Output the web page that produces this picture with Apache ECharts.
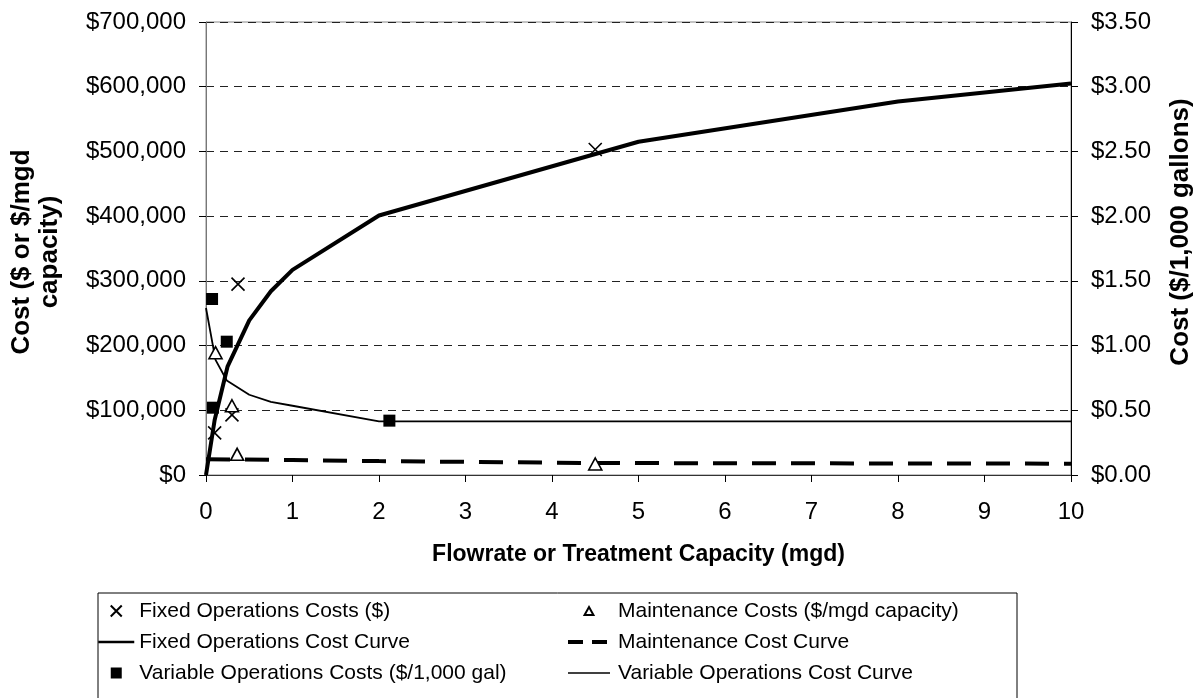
<!DOCTYPE html>
<html>
<head>
<meta charset="utf-8">
<title>Operations and Maintenance Costs vs. Capacity</title>
<script src="https://cdn.jsdelivr.net/npm/echarts@6/dist/echarts.min.js"></script>
<style>
  html, body { margin: 0; padding: 0; background: #fff; }
  #chart { width: 1198px; height: 698px; }
</style>
</head>
<body>
<div id="chart"></div>
<script>
// Flowrate / capacity in mgd, costs on the left ($ or $/mgd) and right ($/1,000 gal) axes
const xTicks = [0, 1, 2, 3, 4, 5, 6, 7, 8, 9, 10];
const leftTicks = [0, 100000, 200000, 300000, 400000, 500000, 600000, 700000];
const rightTicks = [0, 0.5, 1, 1.5, 2, 2.5, 3, 3.5];

// Observed fixed operations costs ($): [mgd, cost]
const fixedOpsCosts = [[0.1, 65000], [0.3, 93000], [0.37, 295000], [4.5, 503000]];
// Observed maintenance costs ($/mgd capacity)
const maintenanceCosts = [[0.11, 189000], [0.3, 107000], [0.36, 32000], [4.5, 17000]];
// Observed variable operations costs ($/1,000 gal)
const variableOpsCosts = [[0.07, 1.36], [0.08, 0.52], [0.24, 1.03], [2.12, 0.42]];

// Fitted cost curves
const fixedOpsCurve = [[0, 0], [0.1, 85000], [0.25, 168000], [0.5, 239000], [0.75, 284000],
  [1, 317000], [2, 401000], [5, 515000], [8, 577000], [10, 605000]];
const maintenanceCurve = [[0, 24500], [0.35, 24000], [1, 23000], [2, 21500], [4.5, 18500], [10, 17500]];
const variableOpsCurve = [[0, 1.29], [0.11, 0.89], [0.24, 0.73], [0.5, 0.62], [0.75, 0.565],
  [1, 0.535], [2, 0.415], [5, 0.415], [10, 0.415]];

const FONT = '"Liberation Sans", Arial, sans-serif';
const CROSS = 'path://M0,0 L10,10 M10,0 L0,10';
const SQUARE = 'path://M0,0 H10 V10 H0 Z';
const TRIANGLE = 'path://M5,0 L10,9 L0,9 Z';

const chart = echarts.init(document.getElementById('chart'), null, { renderer: 'canvas' });

const tickStyle = { show: true, length: 7, inside: false, lineStyle: { color: '#000', width: 1 } };
const tickFont = { fontFamily: FONT, fontSize: 24, color: '#000' };
const hiddenMark = { opacity: 0 };

chart.setOption({
  animation: false,
  backgroundColor: '#fff',
  grid: {
    left: 206, right: 127, top: 22, bottom: 223, outerBoundsMode: 'none', containLabel: false,
    show: true, borderColor: '#888', borderWidth: 1
  },
  xAxis: {
    type: 'value', min: xTicks[0], max: xTicks[xTicks.length - 1], interval: 1,
    name: 'Flowrate or Treatment Capacity (mgd)', nameLocation: 'middle', nameGap: 68,
    nameTextStyle: { fontFamily: FONT, fontSize: 23, fontWeight: 'bold', color: '#000' },
    axisLine: { show: true, lineStyle: { color: '#333', width: 1 } }, axisTick: tickStyle,
    axisLabel: Object.assign({ margin: 25 }, tickFont),
    splitLine: { show: false }
  },
  yAxis: [
    {
      type: 'value', min: leftTicks[0], max: leftTicks[leftTicks.length - 1], interval: 100000,
      axisLine: { show: true, lineStyle: { color: '#777', width: 1 } }, axisTick: tickStyle,
      axisLabel: Object.assign({ margin: 20, formatter: v => '$' + v.toLocaleString('en-US') }, tickFont),
      splitLine: { show: true, lineStyle: { color: '#222', width: 1, type: [8, 6] } }
    },
    {
      type: 'value', min: rightTicks[0], max: rightTicks[rightTicks.length - 1], interval: 0.5,
      position: 'right',
      axisLine: { show: true, lineStyle: { color: '#000', width: 1 } }, axisTick: tickStyle,
      axisLabel: Object.assign({ margin: 20, formatter: v => '$' + v.toFixed(2) }, tickFont),
      splitLine: { show: false }
    }
  ],
  legend: [
    {
      left: 92, top: 595, orient: 'vertical', itemGap: 9, itemWidth: 36, itemHeight: 11,
      textStyle: { fontFamily: FONT, fontSize: 21, color: '#000', lineHeight: 22 },
      data: [
        { name: 'Fixed Operations Costs ($)' },
        { name: 'Fixed Operations Cost Curve', itemStyle: hiddenMark, lineStyle: { width: 2.5 } },
        { name: 'Variable Operations Costs ($/1,000 gal)' }
      ]
    },
    {
      left: 561, top: 595, orient: 'vertical', itemGap: 9, itemWidth: 42, itemHeight: 8,
      textStyle: { fontFamily: FONT, fontSize: 21, color: '#000', lineHeight: 22, padding: [0, 0, 0, 3] },
      data: [
        { name: 'Maintenance Costs ($/mgd capacity)' },
        { name: 'Maintenance Cost Curve', itemStyle: hiddenMark, lineStyle: { width: 4, type: [15, 9] } },
        { name: 'Variable Operations Cost Curve', itemStyle: hiddenMark, lineStyle: { width: 1.5 } }
      ]
    }
  ],
  graphic: [
    { type: 'rect', shape: { x: 98, y: 593, width: 919, height: 130 },
      style: { fill: 'none', stroke: '#000', lineWidth: 1 }, silent: true },
    { type: 'text', x: 36, y: 252, rotation: Math.PI / 2, silent: true,
      style: { text: 'Cost ($ or $/mgd\ncapacity)', align: 'center', verticalAlign: 'middle',
        fontFamily: FONT, fontSize: 26, fontWeight: 'bold', lineHeight: 28, fill: '#000' } },
    { type: 'text', x: 1181, y: 232, rotation: Math.PI / 2, silent: true,
      style: { text: 'Cost ($/1,000 gallons)', align: 'center', verticalAlign: 'middle',
        fontFamily: FONT, fontSize: 26, fontWeight: 'bold', fill: '#000' } }
  ],
  series: [
    {
      name: 'Fixed Operations Cost Curve', type: 'line', yAxisIndex: 0, data: fixedOpsCurve,
      symbol: 'none', lineStyle: { color: '#000', width: 4 }, itemStyle: { color: '#000' }, z: 3
    },
    {
      name: 'Maintenance Cost Curve', type: 'line', yAxisIndex: 0, data: maintenanceCurve,
      symbol: 'none', lineStyle: { color: '#000', width: 4, type: [24, 15] }, itemStyle: { color: '#000' }, z: 3
    },
    {
      name: 'Variable Operations Cost Curve', type: 'line', yAxisIndex: 1, data: variableOpsCurve,
      symbol: 'none', lineStyle: { color: '#000', width: 1.8 }, itemStyle: { color: '#000' }, z: 3
    },
    {
      name: 'Fixed Operations Costs ($)', type: 'scatter', yAxisIndex: 0, data: fixedOpsCosts,
      symbol: CROSS, symbolSize: 13,
      itemStyle: { color: 'none', borderColor: '#000', borderWidth: 1.6, opacity: 1 }, z: 4
    },
    {
      name: 'Maintenance Costs ($/mgd capacity)', type: 'scatter', yAxisIndex: 0, data: maintenanceCosts,
      symbol: TRIANGLE, symbolSize: [13, 12],
      itemStyle: { color: '#fff', borderColor: '#000', borderWidth: 1.6, opacity: 1 }, z: 4
    },
    {
      name: 'Variable Operations Costs ($/1,000 gal)', type: 'scatter', yAxisIndex: 1, data: variableOpsCosts,
      symbol: SQUARE, symbolSize: 12,
      itemStyle: { color: '#000', borderColor: '#000', borderWidth: 0, opacity: 1 }, z: 4
    }
  ]
});
</script>
</body>
</html>
